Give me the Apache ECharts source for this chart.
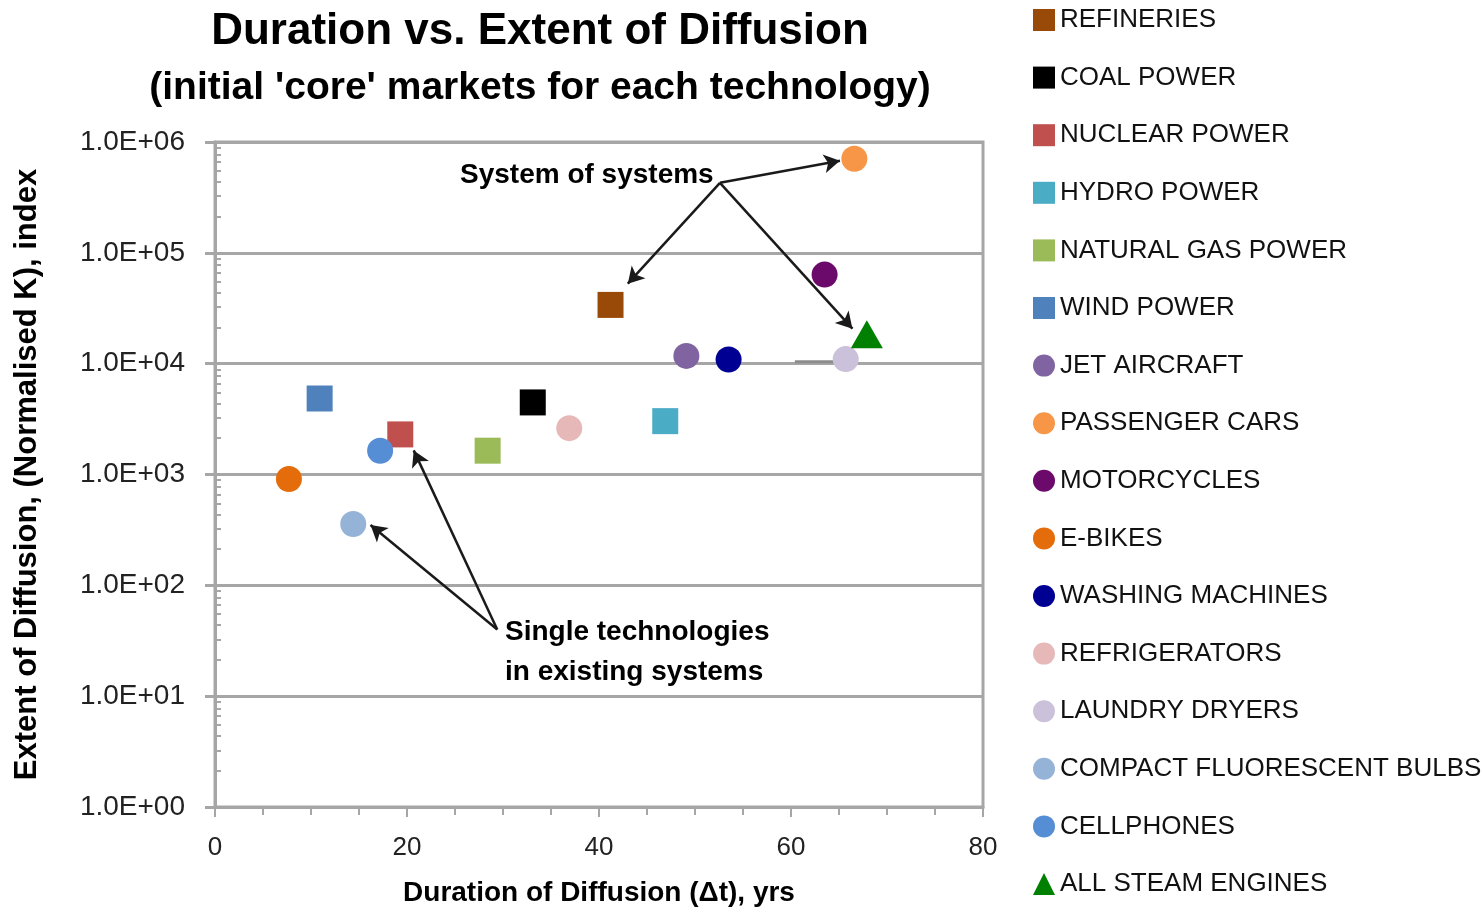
<!DOCTYPE html>
<html>
<head>
<meta charset="utf-8">
<script src="https://cdn.jsdelivr.net/npm/echarts@6/dist/echarts.min.js"></script>
<style>
html,body{margin:0;padding:0;background:#fff;}
#chart{width:1483px;height:912px;}
</style>
</head>
<body>
<div id="chart"></div>
<script>
// ---- data ----
const technologies = ['REFINERIES','COAL POWER','NUCLEAR POWER','HYDRO POWER','NATURAL GAS POWER','WIND POWER','JET AIRCRAFT','PASSENGER CARS','MOTORCYCLES','E-BIKES','WASHING MACHINES','REFRIGERATORS','LAUNDRY DRYERS','COMPACT FLUORESCENT BULBS','CELLPHONES','ALL STEAM ENGINES'];
const durationYrs = [41.2, 33.1, 19.3, 46.9, 28.4, 10.9, 49.1, 66.6, 63.5, 7.7, 53.5, 36.9, 65.7, 14.4, 17.2, 67.9];
const extentIndex = [33900, 4470, 2300, 3030, 1640, 4850, 11750, 706000, 63600, 912, 10900, 2620, 11000, 358, 1640, 18450];
const xTickLabels = ['0','20','40','60','80'];
const yTickLabels = ['1.0E+00','1.0E+01','1.0E+02','1.0E+03','1.0E+04','1.0E+05','1.0E+06'];
// small grey connector near the laundry dryers point
const stubX = [60.4, 64.6];
const stubY = [10400, 10400];
// annotation arrows: [fromX, fromY, toX, toY]
const arrowsSystems = [[52.6, 428000, 43.0, 52700], [52.6, 428000, 65.1, 676000], [52.6, 428000, 66.4, 20700]];
const arrowsSingle = [[29.4, 40, 16.2, 350], [29.4, 40, 20.7, 1650]];

// ---- styles ----
const colors = ['#9a4a08','#000000','#c0504d','#4bacc6','#9bbb59','#4f81bd','#8064a2','#f79646','#6b0a6b','#e46c0a','#000092','#e6b9b8','#ccc1da','#95b3d7','#558ed5','#008000'];
const symbols = ['rect','rect','rect','rect','rect','rect','circle','circle','circle','circle','circle','circle','circle','circle','circle','triangle'];
const FONT = 'Liberation Sans, Arial, sans-serif';
const GRID = '#a6a6a6';

const chart = echarts.init(document.getElementById('chart'), null, {renderer:'canvas'});

const series = technologies.map((name, i) => ({
  name: name,
  type: 'scatter',
  symbol: symbols[i],
  symbolSize: symbols[i] === 'triangle' ? [32, 28] : 26,
  itemStyle: {color: colors[i], opacity: 1},
  data: [[durationYrs[i], extentIndex[i]]],
  z: 3
}));

const arrowData = arrowsSystems.concat(arrowsSingle).map(a => [{coord:[a[0], a[1]]}, {coord:[a[2], a[3]]}]);

series.unshift({
  name: 'stub',
  type: 'line',
  data: stubX.map((x, i) => [x, stubY[i]]),
  symbol: 'none',
  lineStyle: {color: '#8c8c8c', width: 3},
  silent: true,
  z: 2,
  markLine: {
    silent: true,
    symbol: ['none', 'arrow'],
    symbolSize: [14, 16],
    label: {show: false},
    lineStyle: {color: '#1a1a1a', width: 2.5, type: 'solid'},
    data: arrowData,
    animation: false
  }
});

const option = {
  backgroundColor: '#fff',
  animation: false,
  textStyle: {fontFamily: FONT},
  grid: {left: 215, right: 500, top: 142, bottom: 104, show: true, borderColor: GRID, borderWidth: 3, containLabel: false},
  xAxis: {
    type: 'value', min: 0, max: 80, interval: 20,
    name: 'Duration of Diffusion (Δt), yrs', nameLocation: 'middle', nameGap: 72,
    nameTextStyle: {fontSize: 28, fontWeight: 'bold', color: '#000', fontFamily: FONT},
    axisLine: {show: true, lineStyle: {color: GRID, width: 3}},
    axisTick: {show: true, length: 10, lineStyle: {color: GRID, width: 2}},
    minorTick: {show: true, splitNumber: 4, length: 8, lineStyle: {color: GRID, width: 2}},
    splitLine: {show: false},
    axisLabel: {fontSize: 26, color: '#222', margin: 28, fontFamily: FONT,
      formatter: v => xTickLabels[Math.round(v / 20)]}
  },
  yAxis: [{
    type: 'log', logBase: 10, min: 1, max: 1000000,
    name: 'Extent of Diffusion, (Normalised K), index', nameLocation: 'middle', nameGap: 172, nameRotate: 90,
    nameTextStyle: {fontSize: 31, fontWeight: 'bold', color: '#000', fontFamily: FONT},
    axisLine: {show: true, lineStyle: {color: GRID, width: 3}},
    axisTick: {show: true, length: 10, lineStyle: {color: GRID, width: 3}},
    splitLine: {show: true, lineStyle: {color: GRID, width: 3}},
    axisLabel: {fontSize: 28, color: '#222', margin: 30, fontFamily: FONT,
      formatter: v => yTickLabels[Math.round(Math.log10(v))]}
  }, {
    type: 'log', logBase: 10, min: 1, max: 1000000, position: 'left',
    axisLine: {show: false},
    axisTick: {show: false, inside: true},
    minorTick: {show: true, splitNumber: 8, length: 6, lineStyle: {color: GRID, width: 2}},
    splitLine: {show: false},
    axisLabel: {show: false}
  }],
  legend: {
    type: 'plain', orient: 'vertical', left: 1028, top: 2, height: 906, padding: 5,
    itemWidth: 22, itemHeight: 22, itemGap: 31.6,
    data: technologies,
    textStyle: {fontSize: 26, color: '#111', lineHeight: 22, fontFamily: FONT},
    selectedMode: false
  },
  graphic: [
    {type: 'text', style: {text: 'Duration vs. Extent of Diffusion', x: 540, y: 32, align: 'center', verticalAlign: 'middle', font: 'bold 44px ' + FONT, fill: '#000'}},
    {type: 'text', style: {text: "(initial 'core' markets for each technology)", x: 540, y: 88, align: 'center', verticalAlign: 'middle', font: 'bold 39px ' + FONT, fill: '#000'}},
    {type: 'text', z: 10, style: {text: 'System of systems', x: 460, y: 175, align: 'left', verticalAlign: 'middle', font: 'bold 28px ' + FONT, fill: '#000'}},
    {type: 'text', z: 10, style: {text: 'Single technologies', x: 505, y: 632, align: 'left', verticalAlign: 'middle', font: 'bold 28px ' + FONT, fill: '#000'}},
    {type: 'text', z: 10, style: {text: 'in existing systems', x: 505, y: 672, align: 'left', verticalAlign: 'middle', font: 'bold 28px ' + FONT, fill: '#000'}}
  ],
  series: series
};
chart.setOption(option);
</script>
</body>
</html>
